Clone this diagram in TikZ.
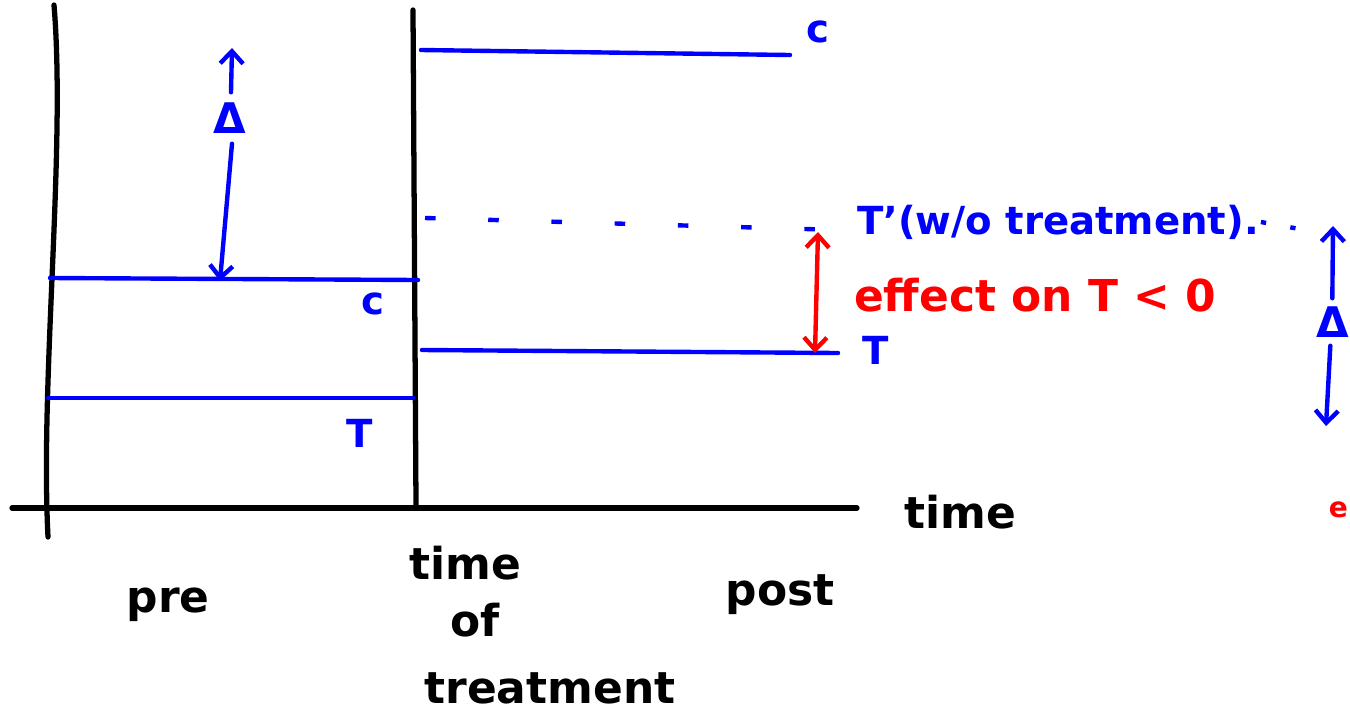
\documentclass[tikz,border=0pt]{standalone}
\usepackage{fontspec}
\setmainfont{DejaVu Sans}
\usetikzlibrary{arrows.meta}

\tikzset{
  axisline/.style={line width=3pt, black, line cap=round},
  level/.style={line width=2.5pt, blue, line cap=round},
  gap/.style={line width=2.5pt, blue, dash pattern=on 6pt off 30pt},
  hand/.style={>={Straight Barb[length=7pt,width=13pt]}},
  blab/.style={text=blue, inner sep=1pt, font=\bfseries\fontsize{22}{26}\selectfont},
  klab/.style={text=black, inner sep=1pt, font=\bfseries\fontsize{25}{30}\selectfont},
  rlab/.style={text=red, inner sep=1pt, font=\bfseries\fontsize{25}{30}\selectfont},
  dlab/.style={text=blue, inner sep=0pt, font=\bfseries\fontsize{24}{28}\selectfont},
}

\begin{document}
\begin{tikzpicture}[x=0.02cm,y=-0.02cm]
\useasboundingbox (0,0) rectangle (1350,721);

% axes
\coordinate (lefttop) at (54,5);
\coordinate (leftbot) at (48,537);
\coordinate (midtop) at (413,10);
\coordinate (midbot) at (416,505);
\coordinate (tstart) at (12,508);
\coordinate (tend) at (857,508);
\draw[axisline] (lefttop) .. controls (66,150) and (40,380) .. (leftbot);
\draw[axisline] (midtop) -- (midbot);
\draw[axisline] (tstart) -- (tend);
\node[klab] (time) at (960,512) {time};

% labels under the axis
\node[klab] (pre) at (168,605) {pre};
\node[klab] (tot1) at (465,563) {time};
\node[klab] (tot2) at (475,620) {of};
\node[klab] (tot3) at (550,688) {treatment};
\node[klab] (post) at (780,595) {post};

% pre period
\coordinate (preCa) at (50,278);
\coordinate (preCb) at (418,280);
\coordinate (preTa) at (48,398);
\coordinate (preTb) at (413,398);
\draw[level] (preCa) -- (preCb);
\draw[level] (preTa) -- (preTb);
\node[blab] (preC) at (373,304) {c};
\node[blab] (preT) at (360,433) {T};

% post period
\coordinate (postCa) at (421,50);
\coordinate (postCb) at (790,55);
\coordinate (postTa) at (422,350);
\coordinate (postTb) at (838,353);
\draw[level] (postCa) -- (postCb);
\draw[level] (postTa) -- (postTb);
\node[blab] (postC) at (818,32) {c};
\node[blab] (postT) at (876,350) {T};

% counterfactual T'
\coordinate (cfa) at (425,218);
\coordinate (cfb) at (840,230);
\draw[gap] (cfa) -- (cfb);
\node[blab, anchor=west] (cf) at (855,222) {T'(w/o treatment).};
\coordinate (cfend) at (1305,230);
\draw[gap, dash pattern=on 3pt off 14pt] (cf.east) -- (cfend);

% Delta in the pre period
\node[dlab] (dpre) at (230,118) {Δ};
\coordinate (dpreup) at (232,48);
\coordinate (dpredn) at (220,281);
\draw[level, hand, ->] (dpre.north) ++(1,-10) -- (dpreup);
\draw[level, hand, ->] (dpre.south) ++(2,10) -- (dpredn);

% effect
\coordinate (efftop) at (818,232);
\coordinate (effbot) at (815,353);
\draw[line width=2.5pt, red, hand, <->] (efftop) -- (effbot);
\node[rlab, anchor=west] (eff) at (852,295) {effect on T < 0};

% Delta in the post period
\node[dlab, anchor=east] (dpost) at (1349,322) {Δ};
\coordinate (dpostup) at (1333,226);
\coordinate (dpostdn) at (1326,426);
\draw[level, hand, ->] (dpost.north) ++(0,-8) -- (dpostup);
\draw[level, hand, ->] (dpost.south) ++(-2,8) -- (dpostdn);
\node[rlab, anchor=east, font=\bfseries\fontsize{16}{18}\selectfont] (rest) at (1350,510) {e};
\end{tikzpicture}
\end{document}
